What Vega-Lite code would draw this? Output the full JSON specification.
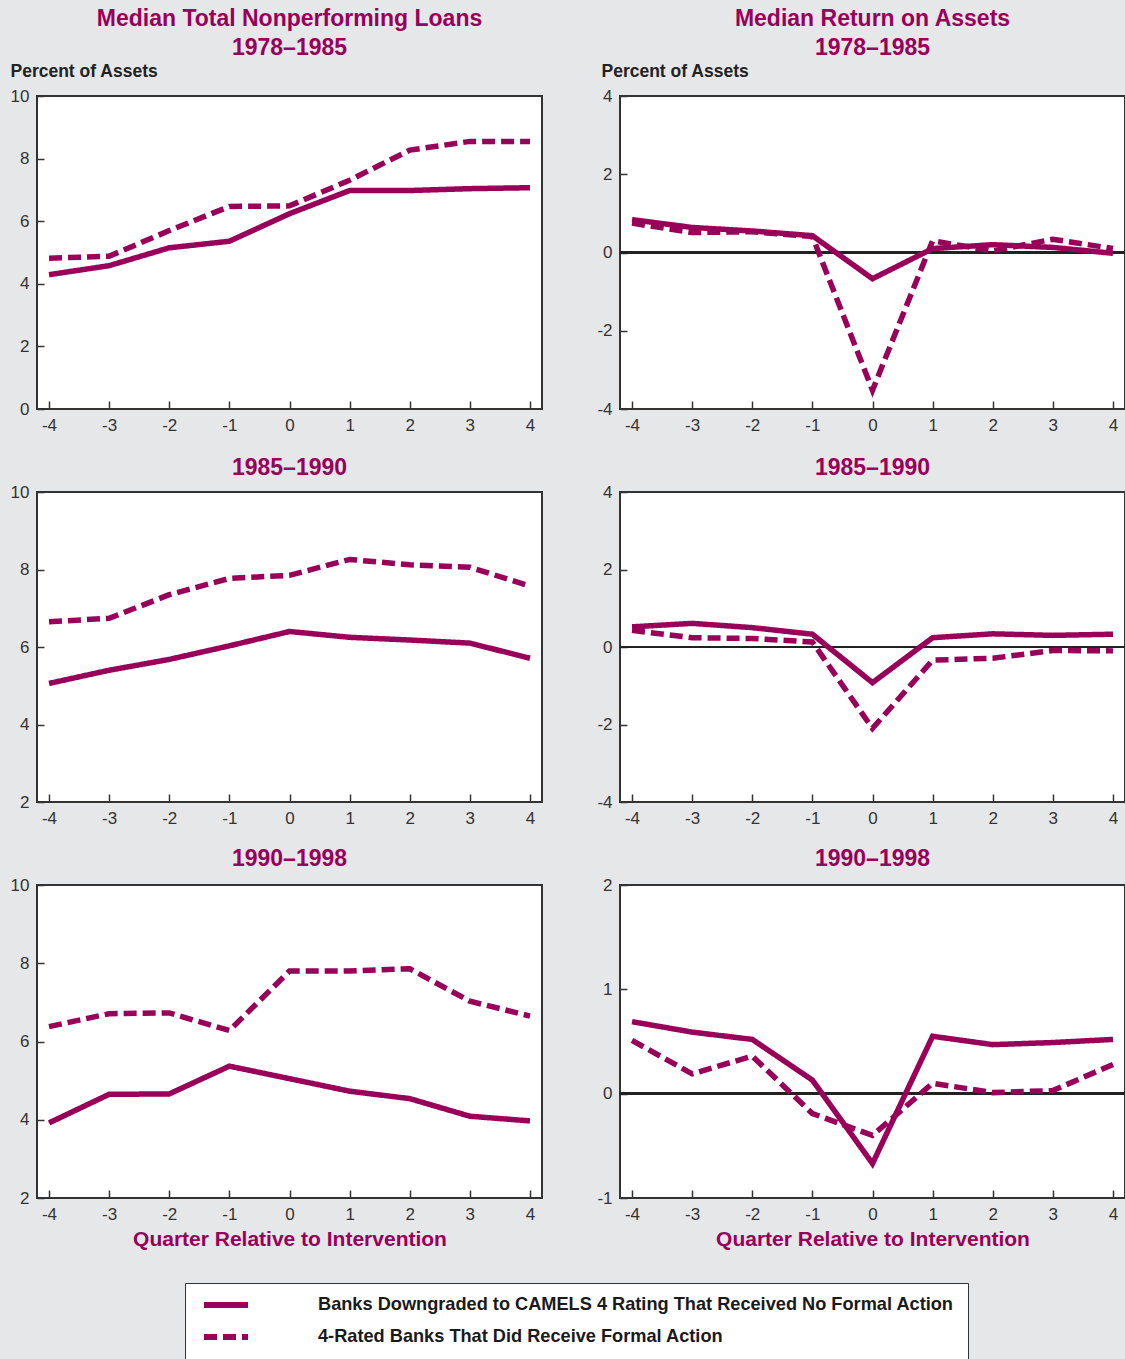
{
  "$schema": "https://vega.github.io/schema/vega-lite/v6.json",
  "background": "#e6e7e9",
  "padding": {"left": 9, "top": 7, "right": 0, "bottom": 0},
  "bounds": "flush",
  "columns": 2,
  "spacing": {"row": 83, "column": 78},
  "datasets": {
    "p1": [
      {"q": -4, "none": 4.29, "formal": 4.82}, {"q": -3, "none": 4.58, "formal": 4.88}, {"q": -2, "none": 5.15, "formal": 5.70},
      {"q": -1, "none": 5.36, "formal": 6.47}, {"q": 0, "none": 6.24, "formal": 6.49}, {"q": 1, "none": 6.98, "formal": 7.31},
      {"q": 2, "none": 6.98, "formal": 8.27}, {"q": 3, "none": 7.04, "formal": 8.55}, {"q": 4, "none": 7.07, "formal": 8.55}
    ],
    "p2": [
      {"q": -4, "none": 0.84, "formal": 0.75}, {"q": -3, "none": 0.64, "formal": 0.51}, {"q": -2, "none": 0.55, "formal": 0.53},
      {"q": -1, "none": 0.43, "formal": 0.41}, {"q": 0, "none": -0.67, "formal": -3.52}, {"q": 1, "none": 0.10, "formal": 0.30},
      {"q": 2, "none": 0.20, "formal": 0.04}, {"q": 3, "none": 0.13, "formal": 0.34}, {"q": 4, "none": -0.02, "formal": 0.10}
    ],
    "p3": [
      {"q": -4, "none": 5.06, "formal": 6.65}, {"q": -3, "none": 5.40, "formal": 6.74}, {"q": -2, "none": 5.68, "formal": 7.35},
      {"q": -1, "none": 6.03, "formal": 7.77}, {"q": 0, "none": 6.40, "formal": 7.85}, {"q": 1, "none": 6.25, "formal": 8.26},
      {"q": 2, "none": 6.18, "formal": 8.12}, {"q": 3, "none": 6.10, "formal": 8.06}, {"q": 4, "none": 5.71, "formal": 7.57}
    ],
    "p4": [
      {"q": -4, "none": 0.52, "formal": 0.43}, {"q": -3, "none": 0.61, "formal": 0.24}, {"q": -2, "none": 0.50, "formal": 0.22},
      {"q": -1, "none": 0.33, "formal": 0.13}, {"q": 0, "none": -0.92, "formal": -2.10}, {"q": 1, "none": 0.24, "formal": -0.34},
      {"q": 2, "none": 0.34, "formal": -0.29}, {"q": 3, "none": 0.30, "formal": -0.09}, {"q": 4, "none": 0.33, "formal": -0.10}
    ],
    "p5": [
      {"q": -4, "none": 3.92, "formal": 6.38}, {"q": -3, "none": 4.65, "formal": 6.71}, {"q": -2, "none": 4.66, "formal": 6.73},
      {"q": -1, "none": 5.37, "formal": 6.28}, {"q": 0, "none": 5.05, "formal": 7.80}, {"q": 1, "none": 4.73, "formal": 7.80},
      {"q": 2, "none": 4.54, "formal": 7.86}, {"q": 3, "none": 4.09, "formal": 7.03}, {"q": 4, "none": 3.97, "formal": 6.65}
    ],
    "p6": [
      {"q": -4, "none": 0.69, "formal": 0.51}, {"q": -3, "none": 0.59, "formal": 0.19}, {"q": -2, "none": 0.52, "formal": 0.36},
      {"q": -1, "none": 0.13, "formal": -0.19}, {"q": 0, "none": -0.67, "formal": -0.40}, {"q": 1, "none": 0.55, "formal": 0.10},
      {"q": 2, "none": 0.47, "formal": 0.01}, {"q": 3, "none": 0.49, "formal": 0.03}, {"q": 4, "none": 0.52, "formal": 0.28}
    ]
  },
  "concat": [
    {
      "width": 505, "height": 313,
      "title": {"text": ["Median Total Nonperforming Loans", "1978–1985"], "frame": "group", "offset": 2},
      "data": {"name": "p1"},
      "transform": [{"fold": ["none", "formal"], "as": ["series", "value"]}],
      "mark": {"type": "line", "color": "#98005a", "strokeWidth": 5.5},
      "encoding": {
        "x": {"field": "q", "type": "quantitative", "scale": {"domain": [-4.2, 4.2], "nice": false, "zero": false}, "axis": {"values": [-4, -3, -2, -1, 0, 1, 2, 3, 4], "title": null}},
        "y": {"field": "value", "type": "quantitative", "scale": {"domain": [0, 10], "nice": false}, "axis": {"values": [0, 2, 4, 6, 8, 10], "title": "Percent of Assets", "titleX": -27, "titleY": -20}},
        "strokeDash": {
          "field": "series", "type": "nominal",
          "scale": {"domain": ["none", "formal"], "range": [[1, 0], [13, 6]]},
          "legend": {
            "orient": "none", "legendX": 148, "legendY": 1187, "title": null,
            "labelExpr": "datum.value == 'none' ? 'Banks Downgraded to CAMELS 4 Rating That Received No Formal Action' : '4-Rated Banks That Did Receive Formal Action'",
            "symbolType": "stroke", "symbolSize": 1936, "symbolStrokeWidth": 6, "symbolStrokeColor": "#98005a", "symbolOffset": 2,
            "labelFont": "Arial", "labelFontSize": 18.2, "labelFontWeight": "bold", "labelColor": "#1a1a1a", "labelOffset": 67,
            "padding": 14, "rowPadding": 13, "clipHeight": 16, "strokeColor": "#333", "fillColor": "white", "labelLimit": 800,
            "encode": {"symbols": {"update": {"strokeDash": {"signal": "datum.value == 'none' ? [1,0] : [8,4]"}}}}
          }
        }
      }
    },
    {
      "width": 505, "height": 313,
      "title": {"text": ["Median Return on Assets", "1978–1985"], "frame": "group", "offset": 2},
      "data": {"name": "p2"},
      "transform": [{"fold": ["none", "formal"], "as": ["series", "value"]}],
      "encoding": {
        "x": {"field": "q", "type": "quantitative", "scale": {"domain": [-4.2, 4.2], "nice": false, "zero": false}, "axis": {"values": [-4, -3, -2, -1, 0, 1, 2, 3, 4], "title": null}},
        "y": {"field": "value", "type": "quantitative", "scale": {"domain": [-4, 4], "nice": false}, "axis": {"values": [-4, -2, 0, 2, 4], "title": "Percent of Assets", "titleX": -19, "titleY": -20}}
      },
      "layer": [
        {"mark": {"type": "rule", "color": "#222", "strokeWidth": 2}, "encoding": {"y": {"datum": 0}, "x": {"datum": -4.2}, "x2": {"datum": 4.2}}},
        {"mark": {"type": "line", "color": "#98005a", "strokeWidth": 5.5}, "encoding": {"strokeDash": {"field": "series", "type": "nominal"}}}
      ]
    },
    {
      "width": 505, "height": 310,
      "title": {"text": "1985–1990", "frame": "group", "offset": 3},
      "data": {"name": "p3"},
      "transform": [{"fold": ["none", "formal"], "as": ["series", "value"]}],
      "mark": {"type": "line", "color": "#98005a", "strokeWidth": 5.5},
      "encoding": {
        "x": {"field": "q", "type": "quantitative", "scale": {"domain": [-4.2, 4.2], "nice": false, "zero": false}, "axis": {"values": [-4, -3, -2, -1, 0, 1, 2, 3, 4], "title": null}},
        "y": {"field": "value", "type": "quantitative", "scale": {"domain": [2, 10], "nice": false, "zero": false}, "axis": {"values": [2, 4, 6, 8, 10], "title": null}},
        "strokeDash": {"field": "series", "type": "nominal"}
      }
    },
    {
      "width": 505, "height": 310,
      "title": {"text": "1985–1990", "frame": "group", "offset": 3},
      "data": {"name": "p4"},
      "transform": [{"fold": ["none", "formal"], "as": ["series", "value"]}],
      "encoding": {
        "x": {"field": "q", "type": "quantitative", "scale": {"domain": [-4.2, 4.2], "nice": false, "zero": false}, "axis": {"values": [-4, -3, -2, -1, 0, 1, 2, 3, 4], "title": null}},
        "y": {"field": "value", "type": "quantitative", "scale": {"domain": [-4, 4], "nice": false}, "axis": {"values": [-4, -2, 0, 2, 4], "title": null}}
      },
      "layer": [
        {"mark": {"type": "rule", "color": "#222", "strokeWidth": 2}, "encoding": {"y": {"datum": 0}, "x": {"datum": -4.2}, "x2": {"datum": 4.2}}},
        {"mark": {"type": "line", "color": "#98005a", "strokeWidth": 5.5}, "encoding": {"strokeDash": {"field": "series", "type": "nominal"}}}
      ]
    },
    {
      "width": 505, "height": 313,
      "title": {"text": "1990–1998", "frame": "group", "offset": 5},
      "data": {"name": "p5"},
      "transform": [{"fold": ["none", "formal"], "as": ["series", "value"]}],
      "mark": {"type": "line", "color": "#98005a", "strokeWidth": 5.5},
      "encoding": {
        "x": {"field": "q", "type": "quantitative", "scale": {"domain": [-4.2, 4.2], "nice": false, "zero": false}, "axis": {"values": [-4, -3, -2, -1, 0, 1, 2, 3, 4], "title": "Quarter Relative to Intervention"}},
        "y": {"field": "value", "type": "quantitative", "scale": {"domain": [2, 10], "nice": false, "zero": false}, "axis": {"values": [2, 4, 6, 8, 10], "title": null}},
        "strokeDash": {"field": "series", "type": "nominal"}
      }
    },
    {
      "width": 505, "height": 313,
      "title": {"text": "1990–1998", "frame": "group", "offset": 5},
      "data": {"name": "p6"},
      "transform": [{"fold": ["none", "formal"], "as": ["series", "value"]}],
      "encoding": {
        "x": {"field": "q", "type": "quantitative", "scale": {"domain": [-4.2, 4.2], "nice": false, "zero": false}, "axis": {"values": [-4, -3, -2, -1, 0, 1, 2, 3, 4], "title": "Quarter Relative to Intervention"}},
        "y": {"field": "value", "type": "quantitative", "scale": {"domain": [-1, 2], "nice": false}, "axis": {"values": [-1, 0, 1, 2], "title": null}}
      },
      "layer": [
        {"mark": {"type": "rule", "color": "#222", "strokeWidth": 2}, "encoding": {"y": {"datum": 0}, "x": {"datum": -4.2}, "x2": {"datum": 4.2}}},
        {"mark": {"type": "line", "color": "#98005a", "strokeWidth": 5.5}, "encoding": {"strokeDash": {"field": "series", "type": "nominal"}}}
      ]
    }
  ],
  "config": {
    "view": {"stroke": "#333", "strokeWidth": 2, "fill": "white"},
    "title": {"font": "Arial", "fontSize": 23, "fontWeight": "bold", "color": "#98005a", "anchor": "middle", "lineHeight": 29},
    "axis": {
      "labelFont": "Arial", "labelFontSize": 17, "labelColor": "#333", "labelExpr": "'' + datum.value",
      "tickColor": "#333", "tickWidth": 1.5, "domain": false, "grid": false,
      "titleFont": "Arial"
    },
    "axisX": {"tickSize": -8, "labelPadding": 16, "titleFontSize": 21, "titleFontWeight": "bold", "titleColor": "#98005a", "titlePadding": 6},
    "axisY": {"tickSize": -7, "labelPadding": 15, "titleAngle": 0, "titleAlign": "left", "titleBaseline": "alphabetic", "titleFontSize": 17.5, "titleFontWeight": "bold", "titleColor": "#222"}
  }
}
